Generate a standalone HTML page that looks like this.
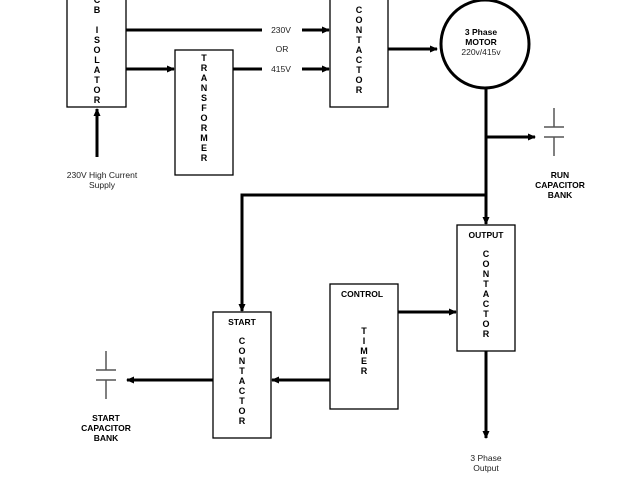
<!DOCTYPE html>
<html><head><style>body{margin:0;background:#fff}</style></head><body>
<svg width="640" height="480" xmlns="http://www.w3.org/2000/svg" font-family="Liberation Sans, sans-serif">
<defs><marker id="a" markerWidth="8" markerHeight="8" refX="7" refY="4" orient="auto" markerUnits="userSpaceOnUse"><path d="M0,0.5 L8,4 L0,7.5 z" fill="#000"/></marker></defs>
<g fill="#fff" stroke="#000" stroke-width="1.3">
<rect x="67" y="-5" width="59" height="112"/>
<rect x="175" y="50" width="58" height="125"/>
<rect x="330" y="-5" width="58" height="112"/>
<rect x="457" y="225" width="58" height="126"/>
<rect x="330" y="284" width="68" height="125"/>
<rect x="213" y="312" width="58" height="126"/>
</g>
<circle cx="485" cy="44" r="44" fill="#fff" stroke="#000" stroke-width="3"/>
<g stroke="#000" stroke-width="3" fill="none">
<line x1="97" y1="157" x2="97" y2="109" marker-end="url(#a)"/>
<line x1="126" y1="30" x2="262" y2="30"/>
<line x1="302" y1="30" x2="329" y2="30" marker-end="url(#a)"/>
<line x1="126" y1="69" x2="174" y2="69" marker-end="url(#a)"/>
<line x1="233" y1="69" x2="262" y2="69"/>
<line x1="302" y1="69" x2="329" y2="69" marker-end="url(#a)"/>
<line x1="388" y1="49" x2="437" y2="49" marker-end="url(#a)"/>
<line x1="486" y1="88" x2="486" y2="224" marker-end="url(#a)"/>
<line x1="486" y1="137" x2="535" y2="137" marker-end="url(#a)"/>
<polyline points="486,195 242,195 242,311" marker-end="url(#a)"/>
<line x1="398" y1="312" x2="456" y2="312" marker-end="url(#a)"/>
<line x1="330" y1="380" x2="272" y2="380" marker-end="url(#a)"/>
<line x1="213" y1="380" x2="127" y2="380" marker-end="url(#a)"/>
<line x1="486" y1="351" x2="486" y2="438" marker-end="url(#a)"/>
</g>
<g stroke="#555" stroke-width="1.5">
<line x1="554" y1="108" x2="554" y2="127"/><line x1="544" y1="127" x2="564" y2="127"/>
<line x1="544" y1="137" x2="564" y2="137"/><line x1="554" y1="137" x2="554" y2="156"/>
<line x1="106" y1="351" x2="106" y2="370"/><line x1="96" y1="370" x2="116" y2="370"/>
<line x1="96" y1="380" x2="116" y2="380"/><line x1="106" y1="380" x2="106" y2="399"/>
</g>
<g font-size="9" font-weight="bold" text-anchor="middle">
<text x="97" y="3">C</text><text x="97" y="13">B</text>
<text x="97" y="33">I</text><text x="97" y="43">S</text><text x="97" y="53">O</text><text x="97" y="63">L</text><text x="97" y="73">A</text><text x="97" y="83">T</text><text x="97" y="93">O</text><text x="97" y="103">R</text>
<text x="204" y="61">T</text><text x="204" y="71">R</text><text x="204" y="81">A</text><text x="204" y="91">N</text><text x="204" y="101">S</text><text x="204" y="111">F</text><text x="204" y="121">O</text><text x="204" y="131">R</text><text x="204" y="141">M</text><text x="204" y="151">E</text><text x="204" y="161">R</text>
<text x="359" y="13">C</text><text x="359" y="23">O</text><text x="359" y="33">N</text><text x="359" y="43">T</text><text x="359" y="53">A</text><text x="359" y="63">C</text><text x="359" y="73">T</text><text x="359" y="83">O</text><text x="359" y="93">R</text>
<text x="486" y="238" font-size="8.5">OUTPUT</text>
<text x="486" y="257">C</text><text x="486" y="267">O</text><text x="486" y="277">N</text><text x="486" y="287">T</text><text x="486" y="297">A</text><text x="486" y="307">C</text><text x="486" y="317">T</text><text x="486" y="327">O</text><text x="486" y="337">R</text>
<text x="362" y="297" font-size="8.5">CONTROL</text>
<text x="364" y="334">T</text><text x="364" y="344">I</text><text x="364" y="354">M</text><text x="364" y="364">E</text><text x="364" y="374">R</text>
<text x="242" y="325" font-size="8.5">START</text>
<text x="242" y="344">C</text><text x="242" y="354">O</text><text x="242" y="364">N</text><text x="242" y="374">T</text><text x="242" y="384">A</text><text x="242" y="394">C</text><text x="242" y="404">T</text><text x="242" y="414">O</text><text x="242" y="424">R</text>
<text x="481" y="35" font-size="8.5">3 Phase</text><text x="481" y="45" font-size="8.5">MOTOR</text>
<text x="560" y="178" font-size="8.5">RUN</text><text x="560" y="188" font-size="8.5">CAPACITOR</text><text x="560" y="198" font-size="8.5">BANK</text>
<text x="106" y="421" font-size="8.5">START</text><text x="106" y="431" font-size="8.5">CAPACITOR</text><text x="106" y="441" font-size="8.5">BANK</text>
</g>
<g font-size="8.5" text-anchor="middle" fill="#222">
<text x="481" y="55">220v/415v</text>
<text x="281" y="33">230V</text><text x="282" y="52">OR</text><text x="281" y="72">415V</text>
<text x="102" y="178">230V High Current</text><text x="102" y="188">Supply</text>
<text x="486" y="461">3 Phase</text><text x="486" y="471">Output</text>
</g>
</svg>
</body></html>
